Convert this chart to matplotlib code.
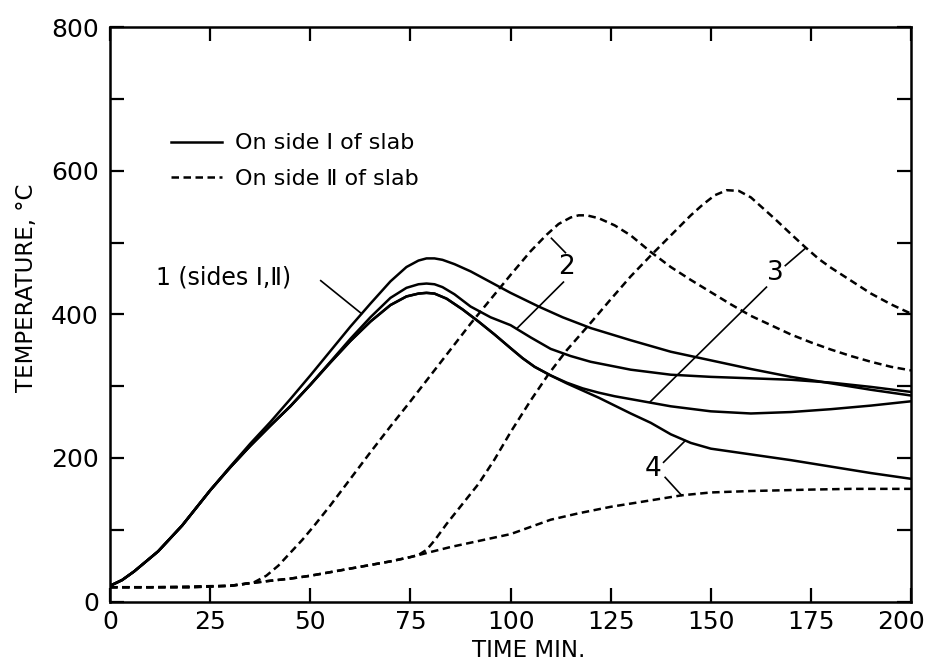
import matplotlib
matplotlib.use('Agg')
import matplotlib.pyplot as plt
from matplotlib.lines import Line2D
from matplotlib.transforms import ScaledTranslation

# values (time in min, temperature in deg C)
t1 = [0, 3, 6, 9, 12, 15, 18, 21, 25, 30, 35, 40, 45, 50, 55, 60, 65, 70, 74, 77, 79, 81,
      83, 86, 90, 95, 100, 107, 113, 120, 130, 140, 150, 160, 170, 180, 190, 200]
solid1 = [22, 30, 42, 56, 70, 88, 106, 127, 155, 188, 220, 250, 282, 315, 349, 383, 415, 446,
          466, 475, 478, 478, 476, 470, 460, 445, 430, 411, 396, 381, 364, 348, 336, 324, 313,
          304, 295, 287]

t2 = [0, 3, 6, 9, 12, 15, 18, 21, 25, 30, 35, 40, 45, 50, 55, 60, 65, 70, 74, 77, 79, 81, 83,
      86, 90, 95, 100, 105, 110, 115, 120, 130, 140, 150, 160, 170, 180, 190, 200]
solid2 = [22, 30, 42, 56, 70, 88, 106, 127, 155, 187, 217, 245, 272, 302, 334, 366, 396, 423,
          437, 442, 443, 442, 438, 428, 411, 396, 385, 368, 352, 342, 334, 323, 316, 313, 311,
          309, 305, 299, 292]

t3 = [0, 3, 6, 9, 12, 15, 18, 21, 25, 30, 35, 40, 45, 50, 55, 60, 65, 70, 74, 77, 79, 81, 84,
      88, 92, 96, 100, 103, 106, 110, 114, 118, 122, 126, 130, 135, 140, 150, 160, 170, 180,
      190, 200]
solid3 = [22, 30, 42, 56, 70, 88, 106, 127, 155, 187, 217, 245, 272, 302, 333, 363, 390, 413,
          425, 429, 430, 429, 422, 407, 390, 372, 353, 339, 327, 315, 305, 297, 291, 286, 282,
          277, 272, 265, 262, 264, 268, 273, 279]

t4 = [0, 3, 6, 9, 12, 15, 18, 21, 25, 30, 35, 40, 45, 50, 55, 60, 65, 70, 74, 77, 79, 81, 84,
      88, 92, 96, 100, 103, 106, 110, 114, 118, 122, 126, 130, 135, 140, 145, 150, 155, 160,
      165, 170, 180, 190, 200]
solid4 = [22, 30, 42, 56, 70, 88, 106, 127, 155, 187, 217, 245, 272, 302, 333, 363, 390, 413,
          425, 429, 430, 429, 422, 407, 390, 372, 353, 339, 327, 315, 304, 294, 284, 273, 262,
          249, 233, 221, 213, 209, 205, 201, 197, 188, 179, 171]

td2 = [0, 10, 20, 30, 33, 36, 39, 42, 45, 48, 51, 55, 60, 65, 70, 75, 80, 85, 90, 95, 100, 105,
       109, 112, 115, 117, 119, 122, 126, 130, 135, 140, 145, 150, 155, 160, 165, 170, 175,
       180, 185, 190, 195, 200]
dash2 = [20, 20, 21, 22, 24, 27, 36, 50, 68, 86, 106, 134, 171, 208, 244, 279, 315, 351, 387,
         421, 455, 488, 511, 526, 535, 538, 538, 534, 524, 510, 487, 466, 448, 431, 414, 398,
         385, 372, 361, 351, 342, 334, 327, 322]

td3 = [0, 10, 20, 25, 30, 34, 40, 45, 50, 55, 60, 65, 70, 75, 77, 79, 81, 84, 88, 92, 96, 100,
       105, 109.5, 114, 119.5, 125, 130, 135, 140, 145, 148, 151, 154, 157, 160, 163, 166, 170,
       173.5, 177, 180, 185, 190, 195, 200]
dash3 = [20, 20, 20, 21, 22, 25, 29, 32, 36, 41, 46, 51, 56, 62, 65, 72, 85, 108, 136, 164, 198,
         236, 280, 317, 350, 385, 421, 453, 482, 510, 538, 553, 566, 573, 572, 563, 548, 533,
         512, 494, 477, 465, 447, 429, 414, 401]

td4 = [0, 10, 20, 25, 30, 34, 40, 45, 50, 55, 60, 65, 70, 75, 80, 85, 90, 95, 100, 105, 110,
       117, 125, 135, 142.7, 150, 160, 167.6, 175, 185, 200]
dash4 = [20, 20, 20, 21, 22, 25, 29, 32, 36, 41, 46, 51, 56, 62, 69, 76, 82, 88, 94, 104, 114,
         123, 132, 141, 148, 152, 154, 155, 156, 157, 157]

x_ticks = [0, 25, 50, 75, 100, 125, 150, 175, 200]
y_ticks = [0, 200, 400, 600, 800]
y_minor = [100, 300, 500, 700]

# curve labels and their leader lines
label_text = ['1 (sides \u2160,\u2161)', '2', '3', '4']
label_x = [11.5, 114, 166, 135.7]
label_y = [452, 466, 457, 185]
label_ha = ['left', 'center', 'center', 'center']
leader_x = [[52.6, 62.8], [113.7, 110.2], [113.2, 101.5], [168.6, 173.6], [163.9, 134.8],
            [138.2, 143.6], [138.6, 142.7]]
leader_y = [[447, 401], [486, 506], [445, 380], [468, 492], [438, 278], [194, 224], [173, 148]]

fig = plt.figure(figsize=(9.33, 6.64), dpi=100)
ax = fig.add_axes([0.118, 0.094, 0.8585, 0.865])

lw = 1.8
dsh = (3, 1.8)
for t, v in [(t1, solid1), (t2, solid2), (t3, solid3), (t4, solid4)]:
    ax.plot(t, v, color='black', lw=lw, solid_joinstyle='round')
for t, v in [(td2, dash2), (td3, dash3), (td4, dash4)]:
    ax.plot(t, v, color='black', lw=lw, linestyle=(0, dsh))

for lx, ly in zip(leader_x, leader_y):
    ax.plot(lx, ly, color='black', lw=1.2)
for s, x, y, ha in zip(label_text, label_x, label_y, label_ha):
    ax.text(x, y, s, fontsize=17 if ha == 'left' else 19, ha=ha, va='center')

ax.set_xlim(0, 200)
ax.set_ylim(0, 800)
ax.set_xticks(x_ticks)
ax.set_yticks(y_ticks)
ax.set_yticks(y_minor, minor=True)
ax.tick_params(which='both', direction='in', top=True, right=True, length=10, width=1.6,
               labelsize=18)
ax.tick_params(axis='x', pad=6)
ax.tick_params(axis='y', pad=8)
for sp in ax.spines.values():
    sp.set_linewidth(1.8)

# the last x label sits a little left of its tick in the original
last = ax.xaxis.get_major_ticks()[-1].label1
last.set_transform(last.get_transform() + ScaledTranslation(-7 / 72, 0, fig.dpi_scale_trans))

ax.set_xlabel('TIME MIN.', fontsize=16.5)
ax.xaxis.set_label_coords(0.522, -0.066)
fig.text(0.028, 0.566, 'TEMPERATURE, \u00b0C', rotation=90, ha='center', va='center',
         fontsize=16.5)

handles = [Line2D([], [], color='black', lw=lw),
           Line2D([], [], color='black', lw=lw, linestyle=(0, dsh))]
ax.legend(handles, ['On side \u2160 of slab', 'On side \u2161 of slab'], loc='upper left',
          bbox_to_anchor=(0.076, 0.815), frameon=False, fontsize=16, borderpad=0,
          borderaxespad=0, handlelength=2.3, handletextpad=0.6, labelspacing=0.7)

fig.savefig('out.png', dpi=100)
